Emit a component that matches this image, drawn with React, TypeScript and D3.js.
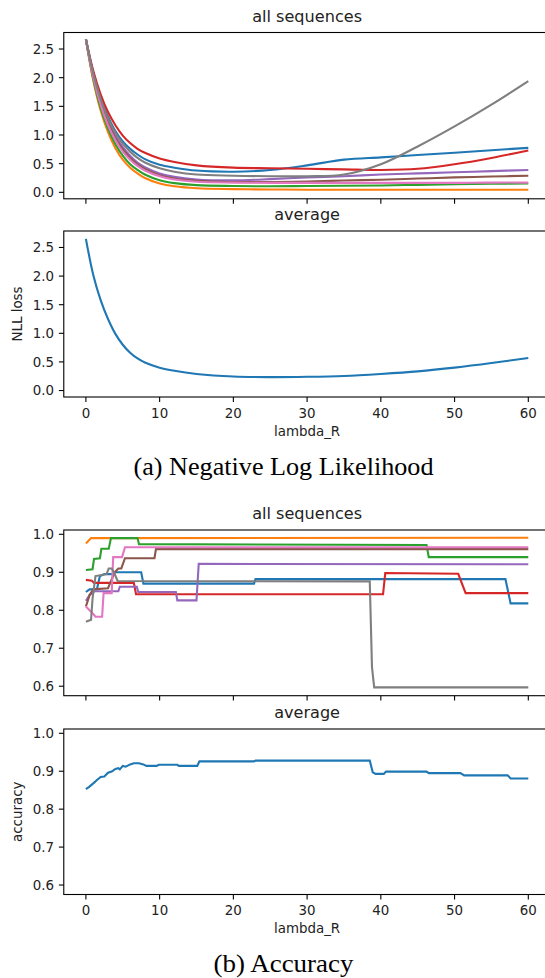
import React from 'react'
import * as d3 from 'd3'

// lambda_R sample points for the NLL curves
const nllLambda = [0, 1, 2, 3, 4, 5, 6, 7, 8, 10, 12, 15, 20, 25, 30, 35, 40, 45, 50, 55, 60]

const nllBlue = [2.67, 2.08, 1.64, 1.32, 1.07, 0.89, 0.76, 0.66, 0.58, 0.48, 0.43, 0.38, 0.36, 0.39, 0.47, 0.57, 0.61, 0.65, 0.69, 0.735, 0.775]
const nllOrange = [2.67, 1.95, 1.43, 1.05, 0.77, 0.57, 0.43, 0.33, 0.25, 0.155, 0.105, 0.07, 0.055, 0.05, 0.045, 0.045, 0.045, 0.045, 0.045, 0.045, 0.045]
const nllGreen = [2.67, 1.98, 1.47, 1.11, 0.84, 0.64, 0.49, 0.39, 0.31, 0.21, 0.16, 0.125, 0.11, 0.105, 0.11, 0.115, 0.12, 0.13, 0.14, 0.15, 0.155]
const nllRed = [2.67, 2.12, 1.71, 1.4, 1.17, 0.99, 0.86, 0.76, 0.69, 0.59, 0.53, 0.47, 0.43, 0.42, 0.41, 0.4, 0.39, 0.41, 0.49, 0.6, 0.73]
const nllPurple = [2.67, 2.05, 1.59, 1.24, 0.98, 0.79, 0.64, 0.52, 0.44, 0.33, 0.27, 0.225, 0.21, 0.23, 0.26, 0.28, 0.31, 0.33, 0.35, 0.37, 0.39]
const nllBrown = [2.67, 2.03, 1.56, 1.21, 0.94, 0.75, 0.6, 0.49, 0.41, 0.3, 0.24, 0.2, 0.18, 0.18, 0.19, 0.205, 0.22, 0.24, 0.26, 0.275, 0.29]
const nllPink = [2.67, 2.01, 1.53, 1.17, 0.91, 0.71, 0.57, 0.46, 0.38, 0.28, 0.225, 0.185, 0.17, 0.165, 0.165, 0.165, 0.165, 0.165, 0.165, 0.17, 0.17]
const nllGray = [2.67, 2.07, 1.63, 1.29, 1.04, 0.85, 0.71, 0.6, 0.52, 0.42, 0.36, 0.31, 0.29, 0.28, 0.28, 0.31, 0.49, 0.8, 1.15, 1.53, 1.94]
const nllAverage = [2.65, 2.02, 1.58, 1.25, 0.99, 0.8, 0.66, 0.56, 0.49, 0.4, 0.345, 0.29, 0.245, 0.235, 0.24, 0.255, 0.29, 0.335, 0.4, 0.48, 0.57]

// accuracy: [lambda_R, accuracy] breakpoints (step-like)
const accBlue = [[0, 0.848], [0.5, 0.855], [1.5, 0.856], [1.9, 0.89], [2.5, 0.895], [3.6, 0.895], [3.8, 0.9], [7.5, 0.9], [7.8, 0.87], [22.8, 0.87], [23.0, 0.882], [56.9, 0.882], [57.6, 0.818], [60, 0.818]]
const accOrange = [[0, 0.976], [0.7, 0.99], [60, 0.991]]
const accGreen = [[0, 0.906], [0.9, 0.908], [1.1, 0.935], [1.9, 0.937], [2.1, 0.962], [3.1, 0.962], [3.4, 0.99], [7.0, 0.99], [7.2, 0.974], [46.2, 0.972], [46.5, 0.94], [60, 0.94]]
const accRed = [[0, 0.88], [0.8, 0.878], [1.1, 0.872], [6.5, 0.872], [6.8, 0.842], [40.3, 0.842], [40.6, 0.898], [50.5, 0.896], [51.5, 0.845], [60, 0.845]]
const accPurple = [[0, 0.825], [0.5, 0.84], [1.2, 0.85], [4.4, 0.85], [4.6, 0.862], [6.9, 0.862], [7.1, 0.848], [12.2, 0.848], [12.4, 0.826], [15.0, 0.826], [15.3, 0.922], [60, 0.921]]
const accBrown = [[0, 0.81], [0.5, 0.84], [1.0, 0.855], [3.0, 0.858], [3.9, 0.9], [4.4, 0.91], [4.8, 0.91], [5.3, 0.937], [9.3, 0.937], [9.5, 0.961], [60, 0.961]]
const accPink = [[0, 0.81], [0.5, 0.8], [1.0, 0.79], [1.3, 0.783], [2.2, 0.783], [2.4, 0.845], [3.5, 0.845], [3.7, 0.94], [4.9, 0.94], [5.3, 0.966], [60, 0.966]]
const accGray = [[0, 0.77], [0.7, 0.775], [0.9, 0.83], [1.3, 0.89], [2.8, 0.895], [3.1, 0.91], [3.5, 0.91], [3.8, 0.9], [4.3, 0.877], [38.5, 0.876], [38.8, 0.65], [39.1, 0.597], [60, 0.597]]
const accAverage = [[0, 0.853], [0.4, 0.858], [1, 0.868], [1.5, 0.877], [2, 0.885], [2.5, 0.886], [3, 0.896], [3.5, 0.899], [4, 0.906], [4.4, 0.908], [4.6, 0.905], [5, 0.914], [5.4, 0.912], [6, 0.918], [6.5, 0.921], [7.2, 0.921], [7.8, 0.918], [8.2, 0.914], [9.6, 0.914], [9.9, 0.917], [12.4, 0.917], [12.6, 0.914], [15.1, 0.914], [15.4, 0.926], [22.8, 0.926], [23, 0.928], [38.5, 0.928], [38.9, 0.897], [39.3, 0.893], [40.4, 0.893], [40.7, 0.899], [46.2, 0.899], [46.5, 0.895], [50.8, 0.895], [51.3, 0.889], [57.2, 0.889], [57.6, 0.881], [60, 0.881]]

const tab10 = ['#1f77b4', '#ff7f0e', '#2ca02c', '#d62728', '#9467bd', '#8c564b', '#e377c2', '#7f7f7f']
const nllSeries = [nllBlue, nllOrange, nllGreen, nllRed, nllPurple, nllBrown, nllPink, nllGray]
const accSeries = [accBlue, accOrange, accGreen, accRed, accPurple, accBrown, accPink, accGray]

const xTicks = [0, 10, 20, 30, 40, 50, 60]
const nllTicks = [0, 0.5, 1, 1.5, 2, 2.5]
const accTicks = [0.6, 0.7, 0.8, 0.9, 1.0]

const W = 545
const H = 978
const FONT = 'DejaVu Sans, sans-serif'
const TICK_FS = 13.4
const TITLE_FS = 16.1
const TEXT = '#222'

const x = d3.scaleLinear().domain([0, 60]).range([85.9, 528.3])
const left = x(-3)
const right = x(63)

function Panel({ top, bottom, domain, ticks, fmt, title, xLabels, ylabel, children }: any) {
  const y = d3.scaleLinear().domain(domain).range([bottom, top])
  return (
    <g>
      <text x={(left + right) / 2} y={top - 11} textAnchor="middle" fontFamily={FONT} fontSize={TITLE_FS} fill={TEXT}>{title}</text>
      <defs>
        <clipPath id={'clip' + top}>
          <rect x={left} y={top} width={right - left} height={bottom - top} />
        </clipPath>
      </defs>
      <g clipPath={`url(#clip${top})`}>{children(y)}</g>
      <rect x={left} y={top} width={right - left} height={bottom - top} fill="none" stroke="#000" strokeWidth={1.1} />
      {ticks.map((t: number) => (
        <g key={t}>
          <line x1={left - 4.9} x2={left} y1={y(t)} y2={y(t)} stroke="#000" strokeWidth={1.1} />
          <text x={left - 9.8} y={y(t) + 4.9} textAnchor="end" fontFamily={FONT} fontSize={TICK_FS} fill={TEXT}>{fmt(t)}</text>
        </g>
      ))}
      {xTicks.map((t) => (
        <g key={t}>
          <line x1={x(t)} x2={x(t)} y1={bottom} y2={bottom + 4.9} stroke="#000" strokeWidth={1.1} />
          {xLabels && (
            <text x={x(t)} y={bottom + 20.7} textAnchor="middle" fontFamily={FONT} fontSize={TICK_FS} fill={TEXT}>{t}</text>
          )}
        </g>
      ))}
      {xLabels && (
        <text x={(left + right) / 2} y={bottom + 38.6} textAnchor="middle" fontFamily={FONT} fontSize={TICK_FS} fill={TEXT}>lambda_R</text>
      )}
      {ylabel && (
        <text transform={`translate(22.2,${(top + bottom) / 2}) rotate(-90)`} textAnchor="middle" fontFamily={FONT} fontSize={TICK_FS} fill={TEXT}>{ylabel}</text>
      )}
    </g>
  )
}

export default function App() {
  const nllDomain = [-0.113, 2.788]
  const accDomain = [0.575, 1.0113]
  const nllLine = (y: any) =>
    d3.line<number>().x((_, i) => x(nllLambda[i])).y((d) => y(d)).curve(d3.curveCatmullRom.alpha(0.5))
  const accLine = (y: any) =>
    d3.line<number[]>().x((d) => x(d[0])).y((d) => y(d[1]))

  return (
    <div style={{ position: 'absolute', left: 0, top: 0 }}>
      <svg width={W} height={H} style={{ display: 'block', background: '#fff' }}>
        <Panel top={32.5} bottom={198.8} domain={nllDomain} ticks={nllTicks} fmt={d3.format('.1f')} title="all sequences" xLabels={false}>
          {(y: any) => nllSeries.map((s, i) => (
            <path key={i} d={nllLine(y)(s) || ''} fill="none" stroke={tab10[i]} strokeWidth={2.1} />
          ))}
        </Panel>
        <Panel top={231} bottom={397} domain={nllDomain} ticks={nllTicks} fmt={d3.format('.1f')} title="average" xLabels={true} ylabel="NLL loss">
          {(y: any) => <path d={nllLine(y)(nllAverage) || ''} fill="none" stroke={tab10[0]} strokeWidth={2.1} />}
        </Panel>
        <text x={283.5} y={474.5} textAnchor="middle" fontFamily="Liberation Serif, serif" fontSize={24.4} textLength={300} lengthAdjust="spacingAndGlyphs" fill="#000">(a) Negative Log Likelihood</text>

        <Panel top={530} bottom={695.7} domain={accDomain} ticks={accTicks} fmt={d3.format('.1f')} title="all sequences" xLabels={false}>
          {(y: any) => accSeries.map((s, i) => (
            <path key={i} d={accLine(y)(s) || ''} fill="none" stroke={tab10[i]} strokeWidth={2.1} />
          ))}
        </Panel>
        <Panel top={729} bottom={894.5} domain={accDomain} ticks={accTicks} fmt={d3.format('.1f')} title="average" xLabels={true} ylabel="accuracy">
          {(y: any) => <path d={accLine(y)(accAverage) || ''} fill="none" stroke={tab10[0]} strokeWidth={2.1} />}
        </Panel>
        <text x={283.5} y={972} textAnchor="middle" fontFamily="Liberation Serif, serif" fontSize={24.4} textLength={140} lengthAdjust="spacingAndGlyphs" fill="#000">(b) Accuracy</text>
      </svg>
    </div>
  )
}
